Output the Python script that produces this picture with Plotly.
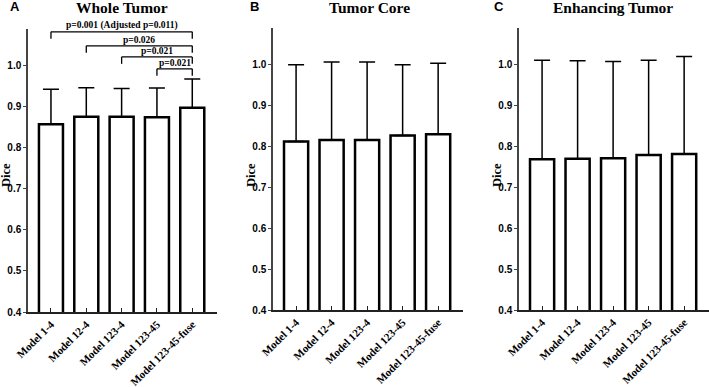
import plotly.graph_objects as go

models = ["Model 1-4", "Model 12-4", "Model 123-4", "Model 123-45", "Model 123-45-fuse"]
panel_titles = ["Whole Tumor", "Tumor Core", "Enhancing Tumor"]
panel_letters = ["A", "B", "C"]

wt_mean = [0.858, 0.876, 0.876, 0.875, 0.898]
wt_sd = [0.085, 0.071, 0.069, 0.071, 0.070]
tc_mean = [0.812, 0.816, 0.816, 0.827, 0.830]
tc_sd = [0.188, 0.191, 0.191, 0.173, 0.174]
et_mean = [0.769, 0.770, 0.771, 0.779, 0.782]
et_sd = [0.242, 0.240, 0.237, 0.232, 0.238]

# significance comparisons for Whole Tumor: (from index, to index, label, bracket level)
comparisons = [
    (0, 4, "p=0.001 (Adjusted p=0.011)", 1.083),
    (1, 4, "p=0.026", 1.049),
    (2, 4, "p=0.021", 1.022),
    (3, 4, "p=0.021", 0.993),
]

means = [wt_mean, tc_mean, et_mean]
sds = [wt_sd, tc_sd, et_sd]

W, H = 709, 387
xdoms = [(28, 217), (273, 463), (519, 709)]
ydoms = [(312, 29), (310, 28), (310, 28)]

fig = go.Figure()
serif = "Liberation Serif, Times New Roman, serif"
sans = "Liberation Sans, Arial, sans-serif"

for k in range(3):
    sfx = "" if k == 0 else str(k + 1)
    fig.add_trace(go.Bar(
        x=models, y=means[k], base=0,
        width=0.68,
        marker=dict(color="white", line=dict(color="black", width=2.5)),
        error_y=dict(type="data", array=sds[k], arrayminus=[0] * 5, symmetric=False,
                     color="black", thickness=1.5, width=8),
        xaxis="x" + sfx, yaxis="y" + sfx, showlegend=False, hoverinfo="skip",
    ))
    x0, x1 = xdoms[k]
    yb, yt = ydoms[k]
    fig.update_layout(**{
        "xaxis" + sfx: dict(
            domain=[x0 / W, x1 / W], anchor="y" + sfx, range=[-0.65, 4.7],
            showline=True, linecolor="#222", linewidth=1.5, automargin=False,
            ticks="inside", ticklen=4, tickcolor="#222", tickangle=-45,
            tickfont=dict(family=serif, size=11, color="black", weight="bold"),
            showgrid=False, zeroline=False,
        ),
        "yaxis" + sfx: dict(
            domain=[(H - yb) / H, (H - yt) / H], anchor="x" + sfx, range=[0.4, 1.09],
            tick0=0.4, dtick=0.1, tickformat=".1f", automargin=False,
            showline=True, linecolor="#444", linewidth=1.5,
            ticks="outside", ticklen=3, tickcolor="#444",
            tickfont=dict(family=sans, size=10, color="black", weight="bold"),
            showgrid=False, zeroline=False,
        ),
    })
    fig.add_annotation(text="<b>%s</b>" % panel_titles[k], xref="paper", yref="paper",
                       x=[122, 369, 613][k] / W, y=(H - 8) / H, showarrow=False,
                       font=dict(family=serif, size=15.5, color="black"),
                       xanchor="center", yanchor="middle")
    fig.add_annotation(text="<b>%s</b>" % panel_letters[k], xref="paper", yref="paper",
                       x=[15, 254, 499][k] / W, y=(H - 7) / H, showarrow=False,
                       font=dict(family=sans, size=13, color="black"),
                       xanchor="center", yanchor="middle")
    fig.add_annotation(text="<b>Dice</b>", xref="paper", yref="paper",
                       x=[6, 251, 497][k] / W, y=(H - 175) / H, showarrow=False, textangle=-90,
                       font=dict(family=serif, size=12.5, color="black"),
                       xanchor="center", yanchor="middle")

# significance brackets (panel A)
drop = 0.017
for i, j, lab, lvl in comparisons:
    xi, xj = models[i], models[j]
    for a, b, c, d in [(xi, lvl, xj, lvl), (xi, lvl, xi, lvl - drop), (xj, lvl, xj, lvl - drop)]:
        fig.add_shape(type="line", xref="x", yref="y", x0=a, y0=b, x1=c, y1=d,
                      line=dict(color="black", width=1.3))
    fig.add_annotation(text="<b>%s</b>" % lab, xref="x", yref="y",
                       x=(i + j) / 2, y=lvl, showarrow=False, yanchor="bottom", yshift=-1,
                       font=dict(family=serif, size=9.5, color="black"))

fig.update_layout(width=W, height=H, margin=dict(l=0, r=0, t=0, b=0),
                  plot_bgcolor="white", paper_bgcolor="white", bargap=0.32)
fig.write_html("out.html", config={"displayModeBar": False},
               post_script="document.body.style.margin='0px';document.body.style.overflow='hidden';")
